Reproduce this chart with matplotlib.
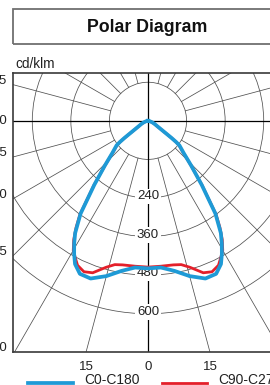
import numpy as np
import matplotlib
matplotlib.use("Agg")
import matplotlib.pyplot as plt
from matplotlib import font_manager as fm
from matplotlib.patches import Circle, Rectangle
from matplotlib.lines import Line2D

# luminous intensity (cd/klm) against angle from nadir
gamma_c0 = [0, 5, 10, 15, 20, 24, 27, 29, 31, 33, 36, 40, 44, 48, 52, 53, 54, 55, 57, 60, 65, 70, 80, 90]
inten_c0 = [459, 458, 474, 500, 522, 521, 500, 474, 446, 416, 357, 260, 193, 149, 124, 110, 90, 70, 48, 33, 22, 14, 5, 0]

gamma_c90 = [0, 5, 10, 13, 16, 20, 23, 26, 28, 30, 32, 34, 36, 40, 44, 48, 52, 53, 54, 55, 57, 60, 65, 70, 80, 90]
inten_c90 = [455, 454, 455, 459, 474, 503, 510, 500, 482, 465, 436, 400, 360, 262, 192, 147, 122, 108, 88, 68, 46, 32, 21, 13, 4, 0]

series_names = ["C0-C180", "C90-C270"]
series_colors = ["#1e9ad6", "#e4202a"]

rings = [120, 240, 360, 480, 600]
ring_labels = [240, 360, 480, 600]
left_angles = [105, 90, 75, 60, 45, 30]
bottom_angles = [-15, 0, 15]

W, H = 270, 385
def fx(x):
    return x / W
def fy(y):
    return 1 - y / H


def have_font(name):
    try:
        fm.findfont(fm.FontProperties(family=name), fallback_to_default=False)
        return True
    except Exception:
        return False

# a condensed face if one is installed, otherwise plain Liberation Sans a bit smaller
narrow = None
for cand in ["Liberation Sans Narrow", "DejaVu Sans Condensed"]:
    if have_font(cand):
        narrow = cand
        break
if narrow:
    narrow_font = [narrow, "DejaVu Sans"]
    title_size, unit_size = 14.5, 11.5
else:
    narrow_font = ["Liberation Sans", "DejaVu Sans"]
    title_size, unit_size = 12.8, 9.8

fig = plt.figure(figsize=(W / 100, H / 100), dpi=100)
ax = fig.add_axes([fx(13), fy(352.3), 270 / W, 279.7 / H])
XMIN, XMAX, YMIN, YMAX = -420, 420, -720, 150
ax.set_xlim(XMIN, XMAX)
ax.set_ylim(YMIN, YMAX)
ax.set_xticks([])
ax.set_yticks([])
for s in ax.spines.values():
    s.set_linewidth(1.2)
    s.set_color("#3a3a3a")

num_font = ["Liberation Sans", "DejaVu Sans"]
grid_col = "#505050"

# grid: circles and radial lines
for r in rings:
    ax.add_patch(Circle((0, 0), r, fill=False, ec=grid_col, lw=0.55, zorder=1))
for a in range(0, 360, 15):
    if a % 90 == 0:
        continue
    t = np.radians(a)
    ax.plot([120 * np.sin(t), 2000 * np.sin(t)], [-120 * np.cos(t), -2000 * np.cos(t)],
            color=grid_col, lw=0.55, zorder=1)
ax.axhline(0, color="black", lw=0.9, zorder=1)
ax.axvline(0, color="black", lw=0.9, zorder=1)

# ring value labels
for r in ring_labels:
    ax.annotate(str(r), xy=(0, -r), xytext=(0, 1.2), textcoords="offset points",
                ha="center", va="center", fontsize=9.5, family=num_font, color="#222222",
                bbox=dict(fc="white", ec="none", pad=1.2), zorder=3)

# angle labels on the left edge
for g in left_angles:
    if g == 90:
        y, off = 0, 0
    else:
        y, off = max(XMIN / np.tan(np.radians(g)), YMIN), 4
    ax.annotate(str(g), xy=(XMIN, y), xytext=(-4.3, off * 0.72), textcoords="offset points",
                ha="right", va="center", fontsize=9.5, family=num_font, color="#222222",
                annotation_clip=False)

# angle labels under the bottom edge
for g in bottom_angles:
    x = -YMIN * np.tan(np.radians(g))
    ax.annotate(str(abs(g)), xy=(x, YMIN), xytext=(0, -14.7 * 0.72), textcoords="offset points",
                ha="center", va="center", fontsize=9.5, family=num_font, color="#222222",
                annotation_clip=False)

# curves
def outline(gam, inten):
    g = np.radians(np.array(gam, float))
    i = np.array(inten, float)
    xs = np.concatenate([-(i * np.sin(g))[::-1], (i * np.sin(g))[1:]])
    ys = np.concatenate([-(i * np.cos(g))[::-1], -(i * np.cos(g))[1:]])
    return xs, ys

x90, y90 = outline(gamma_c90, inten_c90)
x0, y0 = outline(gamma_c0, inten_c0)
ax.plot(x90, y90, color=series_colors[1], lw=2.0, zorder=4, solid_joinstyle="round")
ax.plot(x0, y0, color=series_colors[0], lw=2.7, zorder=5, solid_joinstyle="round")

# title box
fig.add_artist(Rectangle((fx(13), fy(44)), 270 / W, 34.7 / H, fill=False,
                         ec="#707070", lw=1.3, transform=fig.transFigure))
fig.text(fx(147), fy(27), "Polar Diagram", ha="center", va="center", fontsize=title_size,
         fontweight="bold", family=narrow_font, color="#111111")
fig.text(fx(15), fy(67.5), "cd/klm", ha="left", va="baseline", fontsize=unit_size,
         family=narrow_font, color="#222222")

# legend
leg_x = [(28, 73, 84), (162, 207, 218)]
for (a, b, tx), name, col, lw in zip(leg_x, series_names, series_colors, [2.7, 2.0]):
    fig.add_artist(Line2D([fx(a), fx(b)], [fy(383), fy(383)], color=col, lw=lw,
                          transform=fig.transFigure))
    fig.text(fx(tx), fy(380.5), name, ha="left", va="center", fontsize=10,
             family=num_font, color="#222222")

fig.savefig("out.png", dpi=100)
